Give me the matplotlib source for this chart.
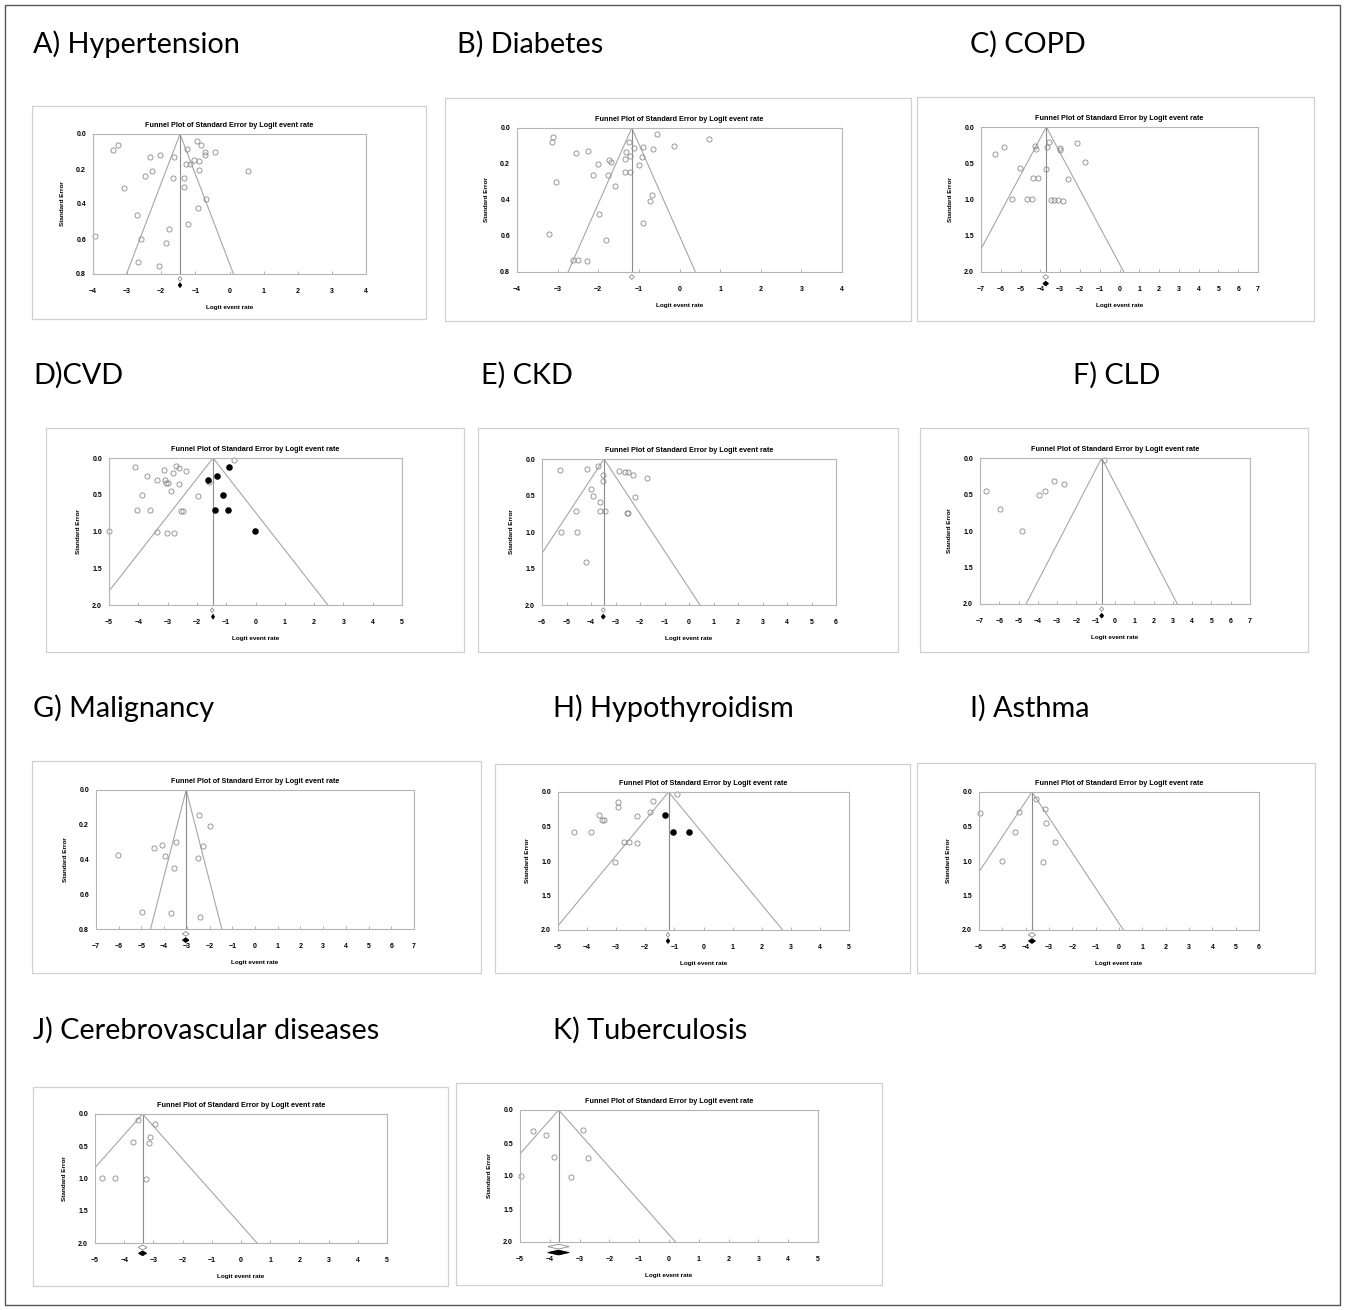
import matplotlib
matplotlib.use("Agg")
import matplotlib.pyplot as plt
from matplotlib import font_manager
from matplotlib.patches import Rectangle, Polygon

# ---- data (logit event rate, standard error) ----
hyp_x = [-3.27, -3.41, -2.04, -2.32, -1.62, -1.25, -0.95, -0.84, -0.73, -0.42, -0.72,
         -1.03, -0.89, -1.28, -1.16, -0.90, 0.53, -2.27, -2.48, -1.67, -1.33, -1.32,
         -3.08, -0.70, -0.92, -2.72, -1.23, -1.77, -3.93, -2.59, -1.86, -2.68, -2.08]
hyp_se = [0.061, 0.094, 0.118, 0.132, 0.132, 0.086, 0.042, 0.061, 0.105, 0.105, 0.122,
          0.149, 0.157, 0.172, 0.172, 0.206, 0.210, 0.214, 0.241, 0.254, 0.250, 0.305,
          0.311, 0.372, 0.422, 0.464, 0.514, 0.544, 0.584, 0.600, 0.624, 0.733, 0.752]

dia_x = [-3.12, -3.14, -1.24, -0.55, 0.73, -0.14, -0.91, -1.13, -0.66, -2.26, -2.54, -1.31,
         -1.23, -1.34, -0.92, -1.74, -1.68, -2.01, -0.99, -1.35, -1.23, -2.12, -1.76, -3.03,
         -1.58, -0.67, -0.72, -1.97, -0.90, -3.21, -1.82, -2.63, -2.51, -2.28]
dia_se = [0.052, 0.080, 0.080, 0.033, 0.059, 0.098, 0.106, 0.113, 0.117, 0.128, 0.141, 0.133,
          0.156, 0.172, 0.161, 0.176, 0.191, 0.200, 0.207, 0.244, 0.243, 0.263, 0.261, 0.302,
          0.324, 0.370, 0.406, 0.476, 0.530, 0.587, 0.622, 0.731, 0.735, 0.741]

copd_x = [-6.31, -5.85, -5.01, -5.42, -4.66, -4.42, -4.37, -4.14, -4.29, -4.24, -3.73,
          -3.65, -3.58, -3.45, -3.33, -3.09, -2.87, -3.01, -3.01, -2.62, -2.13, -1.76]
copd_se = [0.368, 0.280, 0.570, 0.993, 0.993, 0.993, 0.703, 0.703, 0.267, 0.299, 0.575,
           0.280, 0.207, 1.007, 1.007, 1.011, 1.016, 0.289, 0.313, 0.724, 0.221, 0.478]

cvd_x = [-4.10, -3.69, -3.88, -4.03, -3.37, -3.11, -3.08, -3.05, -2.97, -2.82, -2.72, -2.61,
         -2.37, -2.62, -2.90, -3.61, -2.53, -2.48, -1.97, -1.57, -0.74, -5.0, -3.35, -3.02, -2.78]
cvd_se = [0.123, 0.241, 0.50, 0.709, 0.30, 0.164, 0.30, 0.336, 0.336, 0.209, 0.114, 0.141,
          0.173, 0.359, 0.45, 0.709, 0.727, 0.727, 0.523, 0.327, 0.027, 0.991, 1.005, 1.014, 1.018]
cvd_fill_x = [-1.62, -1.31, -0.90, -1.105, -1.39, -0.945, -0.02]
cvd_fill_se = [0.30, 0.241, 0.123, 0.50, 0.709, 0.709, 0.995]

ckd_x = [-5.25, -4.18, -3.72, -3.53, -3.50, -2.87, -2.62, -2.51, -2.30, -1.73, -4.02,
         -3.92, -3.65, -4.61, -3.64, -3.44, -2.53, -2.49, -2.22, -5.23, -4.59, -4.21]
ckd_se = [0.146, 0.132, 0.100, 0.223, 0.296, 0.159, 0.182, 0.182, 0.223, 0.255, 0.405,
          0.501, 0.583, 0.706, 0.715, 0.715, 0.733, 0.733, 0.524, 0.998, 0.998, 1.412]

cld_x = [-6.71, -5.95, -4.84, -3.96, -3.63, -3.18, -2.66, -0.59]
cld_se = [0.447, 0.703, 0.995, 0.502, 0.447, 0.320, 0.361, 0.023]

mal_x = [-6.02, -4.96, -4.44, -4.09, -3.98, -3.47, -3.56, -3.72, -2.48, -1.99, -2.27, -2.49, -2.43]
mal_se = [0.375, 0.704, 0.331, 0.318, 0.377, 0.302, 0.450, 0.710, 0.144, 0.205, 0.325, 0.389, 0.733]

thy_x = [-4.44, -3.88, -3.60, -3.50, -3.41, -2.94, -2.94, -2.74, -2.56, -2.28, -2.28,
         -1.85, -1.74, -0.91, -3.04]
thy_se = [0.576, 0.576, 0.334, 0.407, 0.407, 0.150, 0.213, 0.722, 0.722, 0.736, 0.344,
          0.286, 0.136, 0.029, 1.012]
thy_fill_x = [-1.34, -1.055, -0.50]
thy_fill_se = [0.334, 0.576, 0.576]

ast_x = [-5.96, -5.03, -4.46, -4.30, -3.55, -3.17, -3.15, -2.75, -3.27]
ast_se = [0.305, 0.993, 0.576, 0.286, 0.097, 0.242, 0.450, 0.722, 1.012]

cvs_x = [-4.76, -4.33, -3.70, -3.54, -3.25, -3.14, -3.11, -2.93]
cvs_se = [0.997, 0.997, 0.439, 0.098, 1.008, 0.450, 0.357, 0.160]

tb_x = [-4.98, -4.56, -4.12, -3.87, -3.28, -2.88, -2.73]
tb_se = [0.995, 0.323, 0.374, 0.707, 1.010, 0.303, 0.722]

# pooled estimates: funnel centre, observed diamond, adjusted diamond (x, half width)
titles = ["A) Hypertension", "B) Diabetes", "C) COPD", "D)CVD", "E) CKD", "F) CLD",
          "G) Malignancy", "H) Hypothyroidism", "I) Asthma", "J) Cerebrovascular diseases",
          "K) Tuberculosis"]
centres = [-1.45, -1.175, -3.70, -1.45, -3.47, -0.69, -3.03, -1.20, -3.73, -3.37, -3.70]
open_dia = [(-1.45, 0.06), (-1.175, 0.06), (-3.73, 0.15), (-1.48, 0.06), (-3.50, 0.08),
            (-0.69, 0.10), (-3.05, 0.15), (-1.22, 0.06), (-3.73, 0.16), (-3.37, 0.15), (-3.71, 0.36)]
filled_dia = [(-1.45, 0.05), None, (-3.73, 0.14), (-1.45, 0.05), (-3.50, 0.08),
              (-0.69, 0.10), (-3.05, 0.14), (-1.22, 0.06), (-3.73, 0.15), (-3.37, 0.14), (-3.71, 0.36)]
x_ranges = [4, 4, 7, 5, 6, 7, 7, 5, 6, 5, 5]
se_max = [0.8, 0.8, 2.0, 2.0, 2.0, 2.0, 0.8, 2.0, 2.0, 2.0, 2.0]

open_pts = [(hyp_x, hyp_se), (dia_x, dia_se), (copd_x, copd_se), (cvd_x, cvd_se),
            (ckd_x, ckd_se), (cld_x, cld_se), (mal_x, mal_se), (thy_x, thy_se),
            (ast_x, ast_se), (cvs_x, cvs_se), (tb_x, tb_se)]
filled_pts = [None, None, None, (cvd_fill_x, cvd_fill_se), None, None, None,
              (thy_fill_x, thy_fill_se), None, None, None]

# ---- layout in pixels of the 1346x1310 figure ----
W, H = 1346, 1310
title_pos = [(33, 44), (457, 44), (970, 44), (33, 375), (481, 375), (1073, 375),
             (33, 708), (553, 708), (970, 708), (33, 1030), (553, 1030)]
frames = [(32, 106, 426, 319), (445, 98, 911, 321), (917, 97, 1314, 321),
          (46, 428, 464, 652), (478, 428, 898, 652), (920, 428, 1308, 652),
          (32, 761, 481, 973), (495, 764, 910, 973), (917, 763, 1315, 973),
          (33, 1087, 448, 1286), (456, 1083, 882, 1285)]
axes_px = [(93, 134, 366, 274), (517, 128, 842, 272), (981, 127, 1258, 272),
           (109, 458, 402, 605), (542, 459, 836, 605), (980, 458, 1250, 604),
           (96, 790, 414, 929), (558, 792, 849, 930), (979, 792, 1259, 930),
           (95, 1114, 387, 1243), (520, 1110, 818, 1242)]


def has_font(name):
    try:
        font_manager.findfont(font_manager.FontProperties(family=name),
                              fallback_to_default=False)
        return True
    except ValueError:
        return False


# the original used a narrow bold sans; take one if the box has it
narrow = [f for f in ["Liberation Sans Narrow", "DejaVu Sans Condensed"] if has_font(f)]
if narrow:
    SMALL = [narrow[0], "DejaVu Sans"]
    title_size, tick_size, label_size = 6.3, 5.6, 5.3
else:
    SMALL = ["Liberation Sans", "DejaVu Sans"]
    title_size, tick_size, label_size = 5.2, 5.0, 4.6
BIG = ["Lato", "DejaVu Sans"]
GREY = "#a6a6a6"


def frac(l, t, r, b):
    return [l / W, 1 - b / H, (r - l) / W, (b - t) / H]


def diamond(ax, x, half_w, y, half_h, filled):
    pts = [(x - half_w, y), (x, y - half_h), (x + half_w, y), (x, y + half_h)]
    ax.add_patch(Polygon(pts, closed=True, clip_on=False, lw=0.6,
                         fc="black" if filled else "white",
                         ec="black" if filled else "#8a8a8a", zorder=5))


fig = plt.figure(figsize=(W / 100, H / 100), dpi=100)

# outer border
fig.patches.append(Rectangle((5 / W, 1 - 1305 / H), 1335 / W, 1300 / H,
                             transform=fig.transFigure, fill=False, ec="#555555", lw=1.0))

for i in range(len(titles)):
    tx, ty = title_pos[i]
    fig.text(tx / W, 1 - ty / H, titles[i], fontsize=20.8, family=BIG, ha="left", va="center")

    l, t, r, b = frames[i]
    fig.patches.append(Rectangle((l / W, 1 - b / H), (r - l) / W, (b - t) / H,
                                 transform=fig.transFigure, fill=False, ec="#d0d0d0", lw=0.9))

    ax = fig.add_axes(frac(*axes_px[i]))
    xr, ym, c = x_ranges[i], se_max[i], centres[i]
    ax.set_xlim(-xr, xr)
    ax.set_ylim(ym, 0)

    # funnel and centre line
    ax.plot([c - 1.96 * ym, c, c + 1.96 * ym], [ym, 0, ym], color=GREY, lw=0.8)
    ax.plot([c, c], [0, ym], color="#8c8c8c", lw=0.8)

    ox, oy = open_pts[i]
    ax.plot(ox, oy, "o", ms=3.7, mfc="none", mec="#8a8a8a", mew=0.6, clip_on=False)
    if filled_pts[i] is not None:
        fx, fy = filled_pts[i]
        ax.plot(fx, fy, "o", ms=3.7, color="black", clip_on=False)

    # summary diamonds below the axis
    ah = axes_px[i][3] - axes_px[i][1]
    hh = 2.4 / ah * ym
    dx, dw = open_dia[i]
    diamond(ax, dx, dw, ym * 1.035, hh, False)
    if filled_dia[i] is not None:
        dx, dw = filled_dia[i]
        diamond(ax, dx, dw, ym * 1.08, hh, True)

    ax.set_xticks(range(-xr, xr + 1))
    step = 0.2 if ym < 1 else 0.5
    yt = [round(k * step, 1) for k in range(int(round(ym / step)) + 1)]
    ax.set_yticks(yt)
    ax.set_yticklabels([f"{v:.1f}" for v in yt])
    ax.tick_params(axis="x", direction="in", length=2, width=0.6, color=GREY, pad=10)
    ax.tick_params(axis="y", length=0, pad=5)
    for lab in ax.get_xticklabels() + ax.get_yticklabels():
        lab.set_fontsize(tick_size)
        lab.set_fontweight("bold")
        lab.set_family(SMALL)
    for s in ax.spines.values():
        s.set_color("#b5b5b5")
        s.set_linewidth(0.8)

    ax.set_title("Funnel Plot of Standard Error by Logit event rate", fontsize=title_size,
                 fontweight="bold", family=SMALL, pad=5)
    ax.set_xlabel("Logit event rate", fontsize=label_size, fontweight="bold", family=SMALL, labelpad=7)
    ax.set_ylabel("Standard Error", fontsize=label_size, fontweight="bold", family=SMALL, labelpad=8)

fig.savefig("out.png", dpi=100)
